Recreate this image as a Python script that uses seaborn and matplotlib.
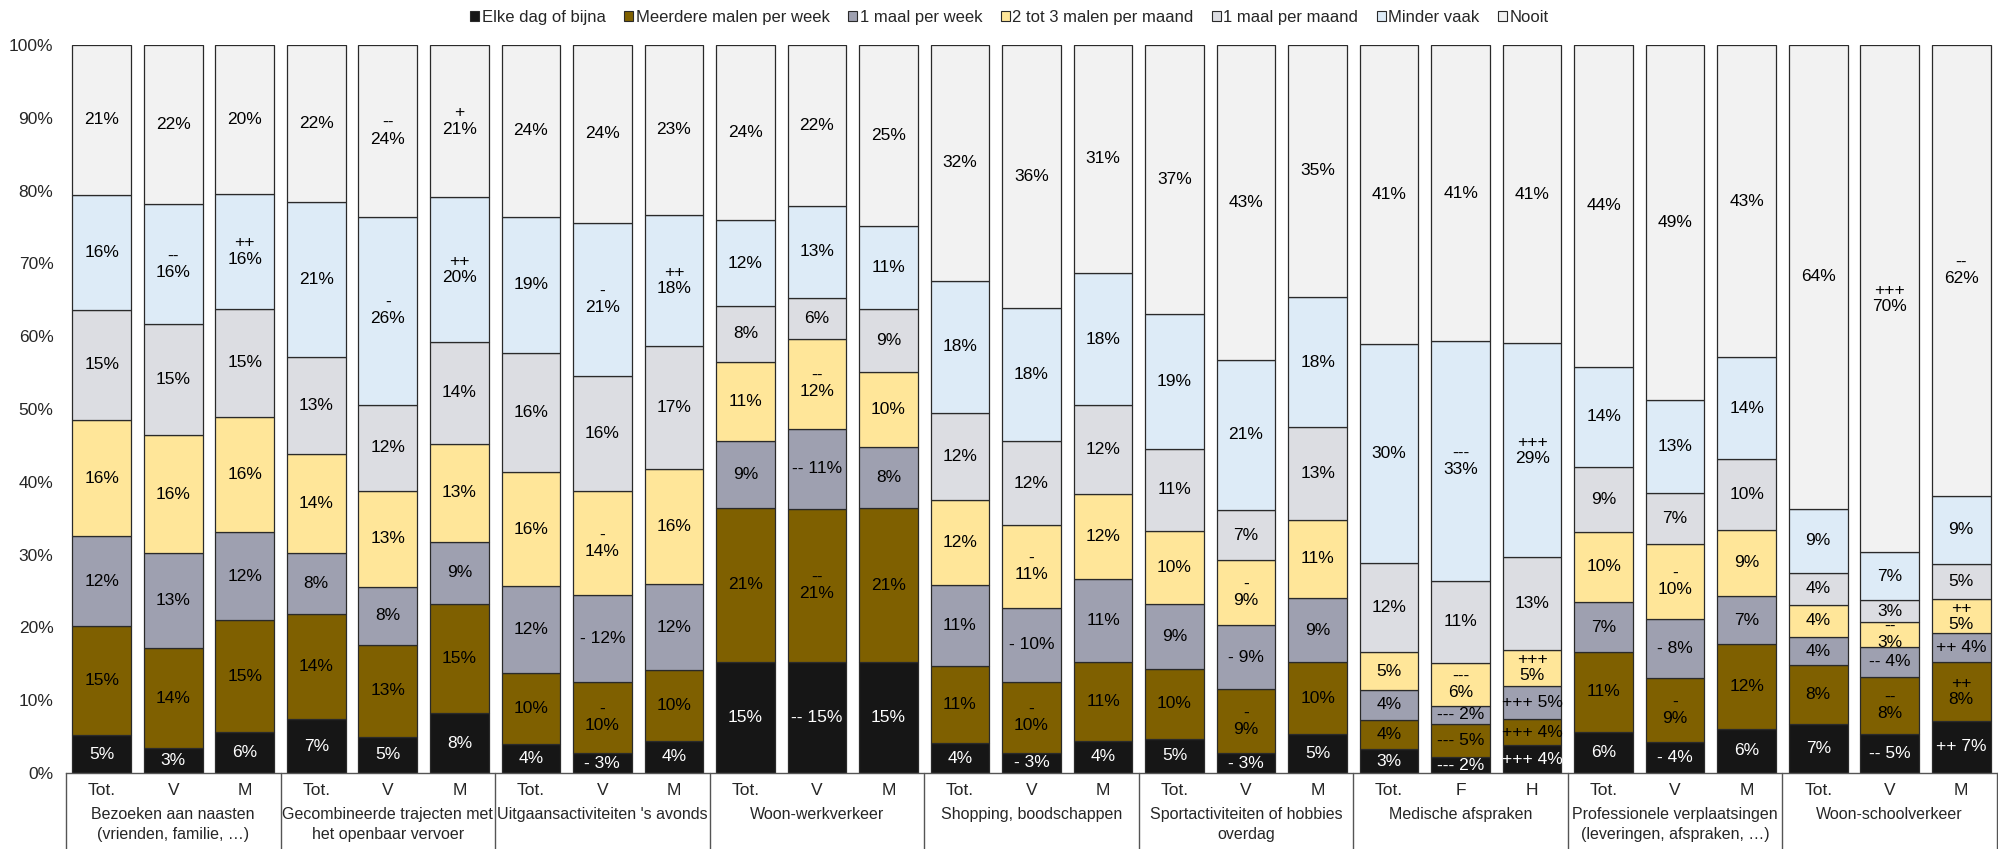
import matplotlib
matplotlib.use("Agg")
import matplotlib.pyplot as plt
import matplotlib.patches as mpatches
import matplotlib.transforms as mtransforms
import pandas as pd
import seaborn as sns

sns.set_theme(style="white")
plt.rcParams['font.family'] = ['Liberation Sans', 'DejaVu Sans']

groups = ["Bezoeken aan naasten\n(vrienden, familie, …)",
          "Gecombineerde trajecten met\nhet openbaar vervoer",
          "Uitgaansactiviteiten 's avonds",
          "Woon-werkverkeer",
          "Shopping, boodschappen",
          "Sportactiviteiten of hobbies\noverdag",
          "Medische afspraken",
          "Professionele verplaatsingen\n(leveringen, afspraken, …)",
          "Woon-schoolverkeer"]
sub_labels = ["Tot.", "V", "M"] * 6 + ["Tot.", "F", "H"] + ["Tot.", "V", "M"] * 2

series_names = ["Elke dag of bijna", "Meerdere malen per week", "1 maal per week",
                "2 tot 3 malen per maand", "1 maal per maand", "Minder vaak", "Nooit"]

elke_dag = [5.2, 3.4, 5.6, 7.4, 5.0, 8.2, 4.0, 2.7, 4.4, 15.3, 15.2, 15.2, 4.1, 2.8, 4.4,
            4.7, 2.7, 5.4, 3.3, 2.2, 3.8, 5.7, 4.2, 6.1, 6.8, 5.4, 7.2]
meerdere = [15.0, 13.8, 15.4, 14.4, 12.6, 15.0, 9.8, 9.8, 9.7, 21.1, 21.1, 21.2, 10.6, 9.7, 10.9,
            9.6, 8.8, 9.8, 4.0, 4.6, 3.6, 10.9, 8.8, 11.6, 8.0, 7.8, 8.0]
week1 = [12.3, 13.0, 12.1, 8.4, 8.0, 8.6, 11.9, 12.0, 11.9, 9.2, 11.0, 8.4, 11.1, 10.2, 11.3,
         8.9, 8.8, 8.8, 4.1, 2.4, 4.6, 6.9, 8.2, 6.6, 3.9, 4.1, 4.0]
maand23 = [16.0, 16.2, 15.8, 13.6, 13.2, 13.4, 15.6, 14.2, 15.8, 10.9, 12.3, 10.3, 11.7, 11.3, 11.7,
           10.1, 8.9, 10.8, 5.2, 5.9, 4.9, 9.6, 10.3, 9.1, 4.4, 3.4, 4.7]
maand1 = [15.1, 15.3, 14.9, 13.3, 11.8, 14.0, 16.4, 15.8, 16.8, 7.7, 5.7, 8.6, 12.0, 11.6, 12.2,
          11.2, 6.9, 12.7, 12.2, 11.3, 12.8, 9.0, 7.0, 9.7, 4.4, 3.0, 4.8]
minder = [15.8, 16.4, 15.8, 21.3, 25.8, 19.9, 18.7, 21.1, 18.1, 11.7, 12.6, 11.4, 18.1, 18.3, 18.2,
          18.6, 20.7, 17.9, 30.1, 32.9, 29.3, 13.7, 12.7, 14.0, 8.8, 6.7, 9.4]
nooit = [20.6, 21.9, 20.4, 21.6, 23.6, 20.9, 23.6, 24.4, 23.3, 24.1, 22.1, 24.9, 32.4, 36.1, 31.3,
         36.9, 43.2, 34.6, 41.1, 40.7, 41.0, 44.2, 48.8, 42.9, 63.7, 69.6, 61.9]

# significance markers per series (bar index -> prefix), "\n" = on the line above
sig_elke = {7: "- ", 10: "-- ", 13: "- ", 16: "- ", 19: "--- ", 20: "+++ ", 22: "- ", 25: "-- ", 26: "++ "}
sig_meerdere = {7: "-\n", 10: "--\n", 13: "-\n", 16: "-\n", 19: "--- ", 20: "+++ ", 22: "-\n", 25: "--\n", 26: "++\n"}
sig_week1 = {7: "- ", 10: "-- ", 13: "- ", 16: "- ", 19: "--- ", 20: "+++ ", 22: "- ", 25: "-- ", 26: "++ "}
sig_maand23 = {7: "-\n", 10: "--\n", 13: "-\n", 16: "-\n", 19: "---\n", 20: "+++\n", 22: "-\n", 25: "--\n", 26: "++\n"}
sig_maand1 = {}
sig_minder = {1: "--\n", 2: "++\n", 4: "-\n", 5: "++\n", 7: "-\n", 8: "++\n", 19: "---\n", 20: "+++\n"}
sig_nooit = {4: "--\n", 5: "+\n", 25: "+++\n", 26: "--\n"}

colors = ["#161616", "#7f6000", "#9ea0b0", "#ffe699", "#dcdde2", "#ddebf7", "#f2f2f2"]
all_series = [elke_dag, meerdere, week1, maand23, maand1, minder, nooit]
all_sig = [sig_elke, sig_meerdere, sig_week1, sig_maand23, sig_maand1, sig_minder, sig_nooit]

df = pd.DataFrame({name: vals for name, vals in zip(series_names, all_series)})
df["bar"] = range(len(df))

fs = 12.5
fig = plt.figure(figsize=(19.99, 8.49), dpi=100)
ax = fig.add_axes([0.033, 0.0895, 0.966, 0.8575])

bottom = pd.Series(0.0, index=df.index)
for name, col, sig in zip(series_names, colors, all_sig):
    sns.barplot(data=df, x="bar", y=name, bottom=bottom.values, color=col, saturation=1,
                width=0.82, edgecolor="#2a2a2a", linewidth=0.9, errorbar=None, ax=ax)
    txt_col = "white" if col == "#161616" else "black"
    for i, v in enumerate(df[name]):
        label = sig.get(i, "") + f"{round(v)}%"
        ax.text(i, bottom[i] + v / 2, label, ha="center", va="center", fontsize=fs,
                color=txt_col, linespacing=1.1)
    bottom = bottom + df[name]

ax.set_xlim(-0.5, len(df) - 0.5)
ax.set_ylim(0, 100)
ax.set_yticks(range(0, 101, 10))
ax.set_yticklabels([f"{t}%" for t in range(0, 101, 10)], fontsize=fs)
ax.set_xticks(range(len(df)))
ax.set_xticklabels(sub_labels, fontsize=fs)
ax.tick_params(axis="both", length=0)
ax.tick_params(axis="x", pad=7)
ax.tick_params(axis="y", pad=9)
ax.set_xlabel("")
ax.set_ylabel("")
for s in ["top", "right", "left"]:
    ax.spines[s].set_visible(False)
ax.spines["bottom"].set_color("#555555")
ax.spines["bottom"].set_linewidth(1)

trans = mtransforms.blended_transform_factory(ax.transData, ax.transAxes)
for g in range(len(groups) + 1):
    ax.plot([g * 3 - 0.5, g * 3 - 0.5], [0, -0.11], transform=trans, color="#555555",
            linewidth=1, clip_on=False)
for g, name in enumerate(groups):
    ax.text(g * 3 + 1, -0.046, name, transform=trans, ha="center", va="top", fontsize=11.5,
            linespacing=1.45)

handles = [mpatches.Patch(facecolor=c, edgecolor="#2a2a2a", linewidth=0.8, label=n)
           for n, c in zip(series_names, colors)]
fig.legend(handles=handles, loc="upper center", bbox_to_anchor=(0.505, 1.006), ncol=7,
           frameon=False, fontsize=12, handlelength=0.55, handleheight=0.6,
           handletextpad=0.15, columnspacing=1.1)

fig.savefig("out.png", dpi=100)
